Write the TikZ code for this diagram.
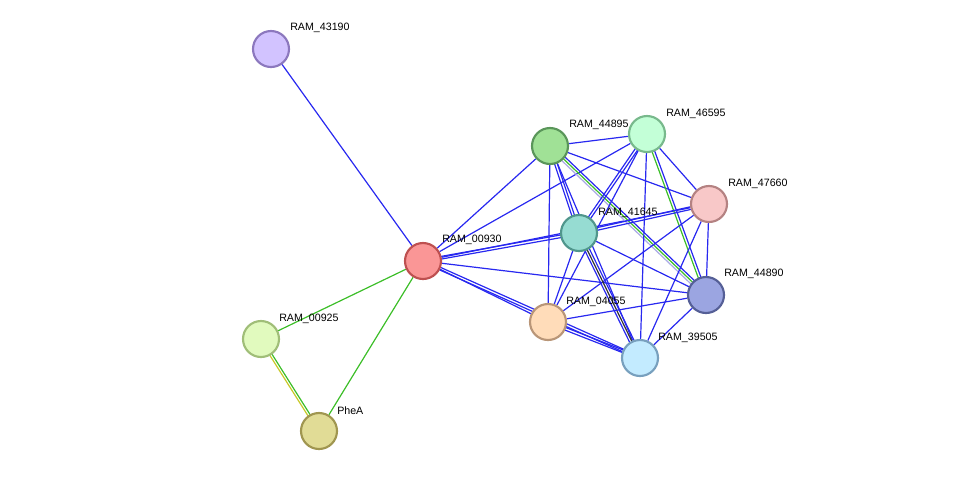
\documentclass[tikz,border=0pt]{standalone}
\usepackage{fontspec}
\setmainfont{Liberation Sans}
\usetikzlibrary{calc,backgrounds}
\newcommand{\pe}[4]{\draw[#1] ($(#2)!#4!90:(#3)$) -- ($(#3)!#4!-90:(#2)$);}
\definecolor{cb}{HTML}{2828F0}\definecolor{cg}{HTML}{3CBE28}\definecolor{cy}{HTML}{C8C828}\definecolor{clv}{HTML}{AAAAE6}
\definecolor{fa}{HTML}{D2C3FF}\definecolor{da}{HTML}{8C78BE}
\definecolor{fb}{HTML}{FA9696}\definecolor{db}{HTML}{BE5050}
\definecolor{fc}{HTML}{E1FABE}\definecolor{dc}{HTML}{A0BE78}
\definecolor{fd}{HTML}{E1DC96}\definecolor{dd}{HTML}{A09650}
\definecolor{fe}{HTML}{A0E196}\definecolor{de}{HTML}{5A965A}
\definecolor{ff}{HTML}{C3FFD7}\definecolor{df}{HTML}{78B98C}
\definecolor{fh}{HTML}{F8C8C8}\definecolor{dh}{HTML}{B48282}
\definecolor{fi}{HTML}{96DCD2}\definecolor{di}{HTML}{50968C}
\definecolor{fj}{HTML}{9BA5E1}\definecolor{dj}{HTML}{555F96}
\definecolor{fl}{HTML}{FFDCB9}\definecolor{dl}{HTML}{B99678}
\definecolor{fm}{HTML}{C3EBFF}\definecolor{dm}{HTML}{78A0BE}
\begin{document}
\begin{tikzpicture}[x=0.75pt,y=-0.75pt,
  nd/.style={circle,minimum size=27pt,inner sep=0pt,line width=1.6pt},
  lb/.style={font=\fontsize{8}{9}\selectfont,anchor=south west,inner sep=0pt},
  eb/.style={draw=cb,line width=0.9pt},
  eg/.style={draw=cg,line width=0.9pt},
  ey/.style={draw=cy,line width=0.9pt},
  ek/.style={draw=black!80,line width=0.9pt},
  elv/.style={draw=clv,line width=0.9pt}]
\useasboundingbox (0,0) rectangle (975,476);
\def\N#1#2#3#4#5#6{\node[nd,fill=#4,draw=#5] (#1) at #2 {};\node[lb] at ($#2+(#6)$) {#3};}
\N{a}{(271,49)}{RAM\_43190}{fa}{da}{19,-16}
\N{b}{(423,261)}{RAM\_00930}{fb}{db}{19,-16}
\N{c}{(261,339)}{RAM\_00925}{fc}{dc}{18,-15}
\N{d}{(319,431)}{PheA}{fd}{dd}{18,-16}
\N{e1}{(550,146)}{RAM\_44895}{fe}{de}{19,-16}
\N{f}{(647,134)}{RAM\_46595}{ff}{df}{19,-15}
\N{h}{(709,204)}{RAM\_47660}{fh}{dh}{19,-15}
\N{i}{(579,233)}{RAM\_41645}{fi}{di}{19,-15}
\N{j}{(706,295)}{RAM\_44890}{fj}{dj}{18,-16}
\N{l}{(548,322)}{RAM\_04055}{fl}{dl}{18,-15}
\N{m}{(640,358)}{RAM\_39505}{fm}{dm}{18,-15}
\begin{scope}[on background layer]
\draw[eb] (b)--(a); \draw[eg] (b)--(c); \draw[eg] (b)--(d);
\pe{eg}{c}{d}{0.9pt}\pe{ey}{c}{d}{-0.9pt}
\draw[eb] (b)--(e1); \draw[eb] (b)--(f); \draw[eb] (b)--(h); \draw[eb] (b)--(j); \draw[eb] (b)--(l);
\pe{eb}{b}{i}{1pt}\pe{eb}{b}{i}{-1pt}
\pe{eb}{b}{m}{1pt}\pe{eb}{b}{m}{-1pt}
\draw[eb] (e1)--(f); \draw[eb] (e1)--(h); \draw[eb] (e1)--(l); \draw[eb] (e1)--(m);
\pe{eb}{e1}{i}{1pt}\pe{eb}{e1}{i}{-1pt}
\pe{eb}{e1}{j}{1.8pt}\pe{eg}{e1}{j}{0pt}\pe{elv}{e1}{j}{-1.8pt}
\draw[eb] (f)--(l); \draw[eb] (f)--(m); \draw[eb] (f)--(h);
\pe{eb}{f}{i}{1pt}\pe{eb}{f}{i}{-1pt}
\pe{eb}{f}{j}{1pt}\pe{eg}{f}{j}{-1pt}
\draw[eb] (h)--(l); \draw[eb] (h)--(m); \draw[eb] (h)--(j);
\pe{eb}{h}{i}{1pt}\pe{eb}{h}{i}{-1pt}
\draw[eb] (i)--(j); \draw[eb] (i)--(l);
\pe{eb}{i}{m}{1.8pt}\pe{ek}{i}{m}{0pt}\pe{eb}{i}{m}{-1.8pt}
\draw[eb] (j)--(l); \draw[eb] (j)--(m);
\pe{eb}{l}{m}{1pt}\pe{eb}{l}{m}{-1pt}
\end{scope}
\end{tikzpicture}
\end{document}
